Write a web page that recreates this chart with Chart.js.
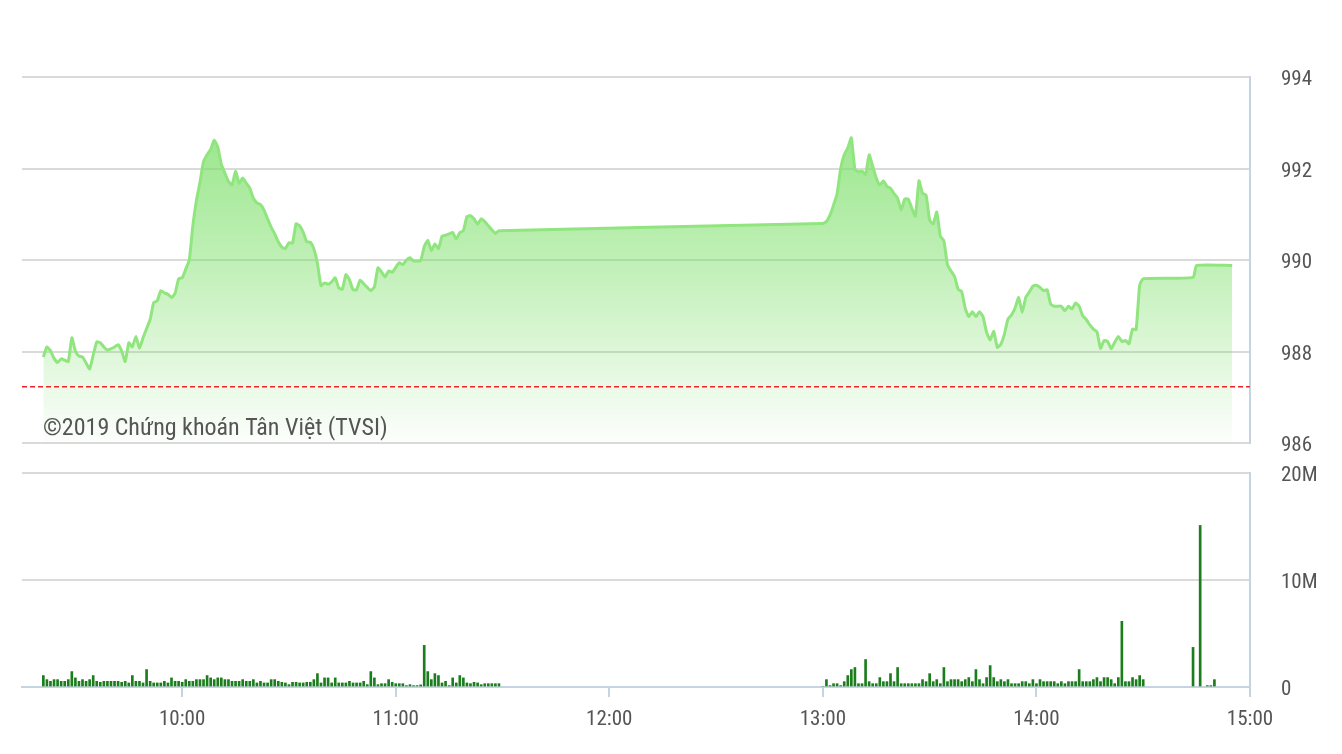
<!DOCTYPE html>
<html>
<head>
<meta charset="utf-8">
<script src="https://cdn.jsdelivr.net/npm/chart.js@4.4.1/dist/chart.umd.min.js"></script>
<style>
    html, body { margin: 0; padding: 0; background: #ffffff; }
    #wrap { position: relative; width: 1342px; height: 754px; }
    #price-chart { position: absolute; left: 0; top: 0; }
    #volume-chart { position: absolute; left: 0; top: 460px; }
</style>
</head>
<body>
<div id="wrap">
    <canvas id="price-chart" width="1342" height="460"></canvas>
    <canvas id="volume-chart" width="1342" height="294"></canvas>
</div>
<script>
// Session times in minutes since midnight
const morningStart = 561;   // 9:21
const afternoonStart = 780; // 13:00

// Index value, one point per minute
const morningPrice = [
    987.88, 988.10, 988.02, 987.85, 987.76, 987.84, 987.81, 987.78, 988.30, 988.01,
    987.90, 987.88, 987.75, 987.62, 987.92, 988.21, 988.19, 988.10, 988.03, 988.06,
    988.10, 988.15, 988.01, 987.78, 988.19, 988.10, 988.33, 988.07, 988.30, 988.50,
    988.70, 989.07, 989.11, 989.33, 989.28, 989.25, 989.18, 989.27, 989.59, 989.61,
    989.80, 990.00, 990.75, 991.30, 991.70, 992.15, 992.30, 992.42, 992.62, 992.47,
    992.09, 991.90, 991.72, 991.64, 991.94, 991.68, 991.79, 991.68, 991.57, 991.35,
    991.25, 991.21, 991.09, 990.90, 990.72, 990.57, 990.40, 990.28, 990.25, 990.38,
    990.37, 990.79, 990.75, 990.61, 990.40, 990.39, 990.24, 989.93, 989.44, 989.50,
    989.47, 989.52, 989.61, 989.39, 989.36, 989.68, 989.57, 989.35, 989.35, 989.56,
    989.48, 989.40, 989.33, 989.41, 989.83, 989.74, 989.63, 989.76, 989.73, 989.84,
    989.94, 989.90, 990.00, 990.05, 989.98, 989.98, 989.98, 990.29, 990.43, 990.21,
    990.35, 990.25, 990.52, 990.54, 990.57, 990.60, 990.46, 990.60, 990.64, 990.95,
    990.97, 990.90, 990.78, 990.90, 990.84, 990.75, 990.66, 990.58, 990.64
];
const afternoonPrice = [
    990.80, 990.84, 990.98, 991.20, 991.45, 992.00, 992.30, 992.45, 992.67, 991.98,
    991.93, 991.94, 991.87, 992.30, 992.05, 991.79, 991.64, 991.73, 991.61, 991.57,
    991.45, 991.35, 991.09, 991.33, 991.33, 991.13, 990.96, 991.73, 991.46, 991.42,
    990.87, 990.79, 991.05, 990.52, 990.42, 989.90, 989.76, 989.64, 989.36, 989.31,
    988.94, 988.76, 988.87, 988.76, 988.87, 988.76, 988.42, 988.25, 988.44, 988.09,
    988.16, 988.38, 988.71, 988.80, 988.95, 989.18, 988.86, 989.18, 989.30, 989.43,
    989.45, 989.40, 989.33, 989.35, 989.04, 988.99, 988.99, 988.99, 988.89, 988.99,
    988.93, 989.06, 988.99, 988.78, 988.70, 988.58, 988.49, 988.43, 988.07, 988.24,
    988.22, 988.06, 988.20, 988.33, 988.22, 988.24, 988.17, 988.49, 988.48, 989.45,
    989.59
];
// ATC / closing prints
const closingTimes = [884, 885, 895];
const closingPrice = [989.62, 989.88, 989.88];

// Reference (previous close)
const refPrice = 987.23;

// Volume in millions, one bar per minute
const morningVolume = [
    1.07, 0.69, 0.53, 0.69, 0.69, 0.53, 0.53, 0.69, 1.44, 0.85,
    0.53, 0.69, 0.53, 0.69, 1.07, 0.53, 0.44, 0.53, 0.53, 0.53,
    0.53, 0.53, 0.44, 0.53, 0.38, 1.07, 0.53, 0.53, 0.38, 1.63,
    0.53, 0.38, 0.38, 0.38, 0.53, 0.38, 0.85, 0.53, 0.53, 0.44,
    0.69, 0.53, 0.53, 0.69, 0.69, 0.69, 1.07, 0.85, 0.69, 0.85,
    0.85, 0.69, 0.69, 0.53, 0.53, 0.53, 0.69, 0.53, 0.53, 0.69,
    0.38, 0.53, 0.38, 0.38, 0.69, 0.69, 0.53, 0.44, 0.38, 0.22,
    0.44, 0.44, 0.38, 0.38, 0.44, 0.44, 0.69, 1.25, 0.38, 0.85,
    0.85, 0.38, 0.85, 0.38, 0.38, 0.38, 0.53, 0.38, 0.38, 0.38,
    0.53, 0.22, 1.44, 0.85, 0.22, 0.31, 0.31, 0.69, 0.44, 0.31,
    0.31, 0.31, 0.13, 0.22, 0.13, 0.13, 0.20, 3.89, 1.44, 0.69,
    1.25, 1.07, 0.38, 0.53, 0.13, 0.85, 0.38, 1.07, 0.85, 0.38,
    0.31, 0.44, 0.38, 0.22, 0.31, 0.31, 0.31, 0.31, 0.31
];
const afternoonVolume = [
    0, 0.69, 0.13, 0.31, 0.31, 0.13, 0.50, 1.07, 1.63, 1.82,
    0.31, 0.31, 2.57, 0.50, 0.31, 0.31, 0.88, 0.50, 0.50, 1.25,
    0.50, 1.82, 0.31, 0.31, 0.31, 0.31, 0.31, 0.31, 0.69, 0.50,
    1.25, 0.50, 0.69, 0.31, 1.82, 0.50, 0.69, 0.69, 0.69, 0.50,
    0.69, 0.88, 0.50, 1.63, 0.69, 0.31, 0.88, 2.00, 0.88, 0.50,
    0.69, 0.50, 0.69, 0.31, 0.31, 0.31, 0.50, 0.50, 0.31, 0.69,
    0.31, 0.69, 0.50, 0.50, 0.50, 0.50, 0.31, 0.50, 0.31, 0.50,
    0.50, 0.50, 1.63, 0.50, 0.50, 0.50, 0.69, 0.88, 0.50, 0.88,
    0.88, 0.69, 0.31, 0.88, 6.14, 0.50, 0.50, 0.88, 0.69, 1.07,
    0.69
];
const closingVolTimes = [884, 886, 888, 889, 890];
const closingVolume = [3.7, 15.1, 0.13, 0.13, 0.69];

// Axes
const timeMin = 555; // 9:15
const timeMax = 900; // 15:00
const timeTicks = [600, 660, 720, 780, 840, 900];
const priceTicks = [986, 988, 990, 992, 994];
const volumeTicks = [0, 10, 20];

const watermark = '©2019 Chứng khoán Tân Việt (TVSI)';

const COLORS = {
    line: '#91e57f',
    ref: '#e8262b',
    bar: '#1b7d1b',
    grid: '#dadada',
    axis: '#c6d3e2',
    text: '#555555'
};
const FONT_FAMILY = "'Liberation Sans Narrow', 'Roboto Condensed', Roboto, sans-serif";
const FONT = { family: FONT_FAMILY, size: 21 };
const AXIS_WIDTH = 92;

/**
 * Build {x, y} points from a start minute and a per-minute list
 */
function toPoints(start, values) {
    return values.map((v, i) => ({ x: start + i, y: v }));
}

function formatTime(v) {
    const h = Math.floor(v / 60);
    const m = v % 60;
    return h + ':' + (m < 10 ? '0' + m : m);
}

/**
 * Price area chart (top panel)
 */
function initPriceChart() {
    const ctx = document.getElementById('price-chart').getContext('2d');

    const pricePoints = toPoints(morningStart, morningPrice)
        .concat(toPoints(afternoonStart, afternoonPrice))
        .concat(closingTimes.map((t, i) => ({ x: t, y: closingPrice[i] })));

    const watermarkPlugin = {
        id: 'watermark',
        afterDatasetsDraw(chart) {
            const c = chart.ctx;
            c.save();
            c.font = '24px ' + FONT_FAMILY;
            c.fillStyle = COLORS.text;
            c.textBaseline = 'alphabetic';
            c.fillText(watermark, 43, 435);
            c.restore();
        }
    };

    return new Chart(ctx, {
        type: 'line',
        data: {
            datasets: [{
                label: 'Tham chiếu',
                data: [{ x: timeMin, y: refPrice }, { x: timeMax, y: refPrice }],
                borderColor: COLORS.ref,
                borderWidth: 1.5,
                borderDash: [5, 3],
                pointRadius: 0,
                fill: false
            }, {
                label: 'VN-Index',
                data: pricePoints,
                borderColor: COLORS.line,
                borderWidth: 3,
                borderJoinStyle: 'round',
                pointRadius: 0,
                tension: 0.15,
                fill: 'start',
                backgroundColor: (context) => {
                    const area = context.chart.chartArea;
                    if (!area) return 'rgba(120,222,100,0.4)';
                    const g = context.chart.ctx.createLinearGradient(0, area.top, 0, area.bottom);
                    g.addColorStop(0, 'rgba(120,222,100,0.85)');
                    g.addColorStop(0.5, 'rgba(120,222,100,0.47)');
                    g.addColorStop(1, 'rgba(120,222,100,0.02)');
                    return g;
                }
            }]
        },
        options: {
            responsive: false,
            animation: false,
            layout: { padding: { left: 22, top: 77, right: 0, bottom: 17 } },
            plugins: {
                legend: { display: false },
                tooltip: { enabled: false }
            },
            scales: {
                x: {
                    type: 'linear',
                    display: false,
                    min: timeMin,
                    max: timeMax
                },
                y: {
                    position: 'right',
                    min: priceTicks[0],
                    max: priceTicks[priceTicks.length - 1],
                    afterBuildTicks: (scale) => {
                        scale.ticks = priceTicks.map(v => ({ value: v }));
                    },
                    afterFit: (scale) => { scale.width = AXIS_WIDTH; },
                    // transparent tick marks push the labels away from the axis
                    grid: {
                        color: COLORS.grid,
                        lineWidth: 2,
                        drawTicks: true,
                        tickLength: 31,
                        tickColor: 'rgba(0,0,0,0)'
                    },
                    border: { display: true, color: COLORS.axis, width: 2 },
                    ticks: { color: COLORS.text, font: FONT, padding: 0, labelOffset: 3 }
                }
            }
        },
        plugins: [watermarkPlugin]
    });
}

/**
 * Volume bar chart (bottom panel)
 */
function initVolumeChart() {
    const ctx = document.getElementById('volume-chart').getContext('2d');

    const volumePoints = toPoints(morningStart, morningVolume)
        .concat(toPoints(afternoonStart, afternoonVolume))
        .concat(closingVolTimes.map((t, i) => ({ x: t, y: closingVolume[i] })));

    return new Chart(ctx, {
        type: 'bar',
        data: {
            datasets: [{
                label: 'Khối lượng',
                data: volumePoints,
                backgroundColor: COLORS.bar,
                barThickness: 2,
                borderWidth: 0
            }]
        },
        options: {
            responsive: false,
            animation: false,
            layout: { padding: { left: 22, top: 13, right: 0, bottom: 27 } },
            plugins: {
                legend: { display: false },
                tooltip: { enabled: false }
            },
            scales: {
                x: {
                    type: 'linear',
                    min: timeMin,
                    max: timeMax,
                    offset: false,
                    afterBuildTicks: (scale) => {
                        scale.ticks = timeTicks.map(v => ({ value: v }));
                    },
                    afterFit: (scale) => { scale.height = 40; },
                    grid: {
                        offset: false,
                        drawOnChartArea: false,
                        drawTicks: true,
                        tickLength: 10,
                        tickColor: COLORS.axis,
                        lineWidth: 2
                    },
                    border: { display: true, color: COLORS.axis, width: 2 },
                    ticks: {
                        color: COLORS.text,
                        font: FONT,
                        padding: 10,
                        maxRotation: 0,
                        autoSkip: false,
                        callback: (v) => formatTime(v)
                    }
                },
                y: {
                    position: 'right',
                    min: volumeTicks[0],
                    max: volumeTicks[volumeTicks.length - 1],
                    afterBuildTicks: (scale) => {
                        scale.ticks = volumeTicks.map(v => ({ value: v }));
                    },
                    afterFit: (scale) => { scale.width = AXIS_WIDTH; },
                    grid: {
                        color: COLORS.grid,
                        lineWidth: 2,
                        drawTicks: true,
                        tickLength: 31,
                        tickColor: 'rgba(0,0,0,0)'
                    },
                    border: { display: true, color: COLORS.axis, width: 2 },
                    ticks: {
                        color: COLORS.text,
                        font: FONT,
                        padding: 0,
                        labelOffset: 3,
                        callback: (v) => v === 0 ? '0' : v + 'M'
                    }
                }
            }
        }
    });
}

initPriceChart();
initVolumeChart();
</script>
</body>
</html>
